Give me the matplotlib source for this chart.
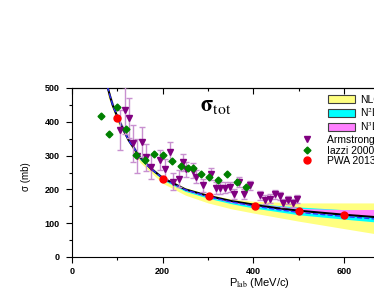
import matplotlib
matplotlib.use("Agg")
import matplotlib.pyplot as plt
from matplotlib.patches import Patch
from matplotlib.lines import Line2D
import numpy as np

plt.rcParams['font.family'] = ['Liberation Sans', 'DejaVu Sans']
plt.rcParams['mathtext.fontset'] = 'stix'

# theory curves (P_lab in MeV/c, sigma in mb)
p_th = [78, 85, 90, 100, 110, 125, 150, 175, 200, 250, 300, 350, 400, 450, 500, 600, 700, 800]
sig_n3lo = [505, 470, 448, 415, 385, 345, 295, 260, 234, 200, 181, 166, 155, 145, 137, 125, 115, 106]
sig_dash = [505, 470, 448, 415, 385, 345, 295, 260, 233, 199, 179, 163, 151, 141, 132, 120, 109, 100]

p_band = [78, 100, 150, 200, 250, 300, 350, 400, 500, 600, 700, 800]
nlo_lo = [480, 398, 280, 218, 183, 160, 143, 130, 106, 84, 62, 46]
nlo_hi = [510, 420, 298, 238, 205, 186, 172, 165, 160, 160, 160, 160]
n2lo_lo = [500, 410, 288, 228, 194, 174, 158, 145, 125, 112, 100, 90]
n2lo_hi = [506, 418, 297, 236, 202, 183, 169, 158, 148, 140, 134, 130]
n3lo_lo = [502, 412, 291, 231, 197, 178, 162, 151, 133, 123, 117, 110]
n3lo_hi = [507, 418, 297, 236, 202, 184, 168, 158, 144, 140, 141, 142]

# Armstrong data
p_arm = [105, 117, 126, 135, 144, 155, 164, 175, 195, 205, 215, 223, 236, 245, 252, 266, 273, 288,
         306, 317, 326, 337, 348, 357, 368, 379, 393, 415, 426, 437, 448, 459, 466, 477, 487, 497]
sig_arm = [376, 434, 411, 337, 300, 340, 295, 266, 288, 260, 312, 223, 231, 280, 260, 255, 238, 212,
           246, 205, 204, 205, 207, 186, 222, 186, 212, 182, 170, 172, 185, 180, 160, 168, 160, 172]
err_arm = [60, 70, 60, 55, 50, 45, 40, 35, 30, 30, 28, 25, 25, 25, 22, 22, 20, 20,
           18, 18, 18, 16, 16, 15, 15, 15, 14, 14, 13, 13, 13, 12, 12, 12, 12, 12]

# Iazzi data
p_iaz = [65, 81, 99, 120, 142, 160, 180, 201, 221, 241, 256, 266, 284, 302, 323, 342, 363, 384]
sig_iaz = [416, 364, 443, 378, 303, 287, 306, 303, 285, 270, 263, 263, 245, 238, 228, 246, 221, 207]
err_iaz = [8, 8, 8, 8, 8, 7, 7, 7, 7, 7, 7, 7, 7, 7, 7, 7, 7, 7]

# PWA points
p_pwa = [99, 200, 302, 403, 501, 599]
sig_pwa = [411, 230, 179, 151, 136, 124]

fig = plt.figure(figsize=(3.74, 2.91), dpi=100)
ax = fig.add_axes([72/374, 34/291, 362.8/374, 169/291])

ax.fill_between(p_band, nlo_lo, nlo_hi, color='#ffff80', lw=0, zorder=1)
ax.fill_between(p_band, n2lo_lo, n2lo_hi, color='#00ffff', lw=0, zorder=2)
ax.fill_between(p_band, n3lo_lo, n3lo_hi, color='#ff80ff', lw=0, zorder=3)
ax.plot(p_th, sig_n3lo, '-', color='k', lw=1.5, zorder=4)
ax.plot(p_th, sig_dash, '--', color='#3030ff', lw=1.0, zorder=5)

ax.errorbar(p_arm, sig_arm, yerr=err_arm, fmt='v', color='#800080', ms=4,
            ecolor='#c890d0', elinewidth=1, capsize=2.5, zorder=6)
ax.errorbar(p_iaz, sig_iaz, yerr=err_iaz, xerr=4, fmt='D', color='#008000', ms=3.5,
            ecolor='#80c080', elinewidth=1, capsize=0, zorder=7)
ax.plot(p_pwa, sig_pwa, 'o', color='#ff0000', ms=5, zorder=8)

ax.set_xlim(0, 800)
ax.set_ylim(0, 500)
ax.set_xticks([0, 200, 400, 600])
ax.set_xticks([100, 300, 500, 700], minor=True)
ax.set_yticks([0, 100, 200, 300, 400, 500])
ax.set_yticks(np.arange(50, 500, 100), minor=True)
ax.tick_params(axis='both', which='major', labelsize=6.5, length=4, width=0.8, pad=3)
ax.tick_params(axis='y', which='major', pad=5)
ax.tick_params(axis='both', which='minor', length=2, width=0.8, direction='out')
for lab in ax.get_xticklabels() + ax.get_yticklabels():
    lab.set_fontweight('bold')
ax.spines['right'].set_visible(False)

# ticks along the top frame, pointing inward
top = ax.secondary_xaxis('top')
top.set_xticks([0, 200, 400, 600])
top.set_xticks([100, 300, 500, 700], minor=True)
top.tick_params(which='both', direction='in', labeltop=False, width=0.8)
top.tick_params(which='major', length=4)
top.tick_params(which='minor', length=2)

ax.set_ylabel('σ (mb)', fontsize=7)
ax.yaxis.set_label_coords(-(72 - 31) / 362.8, (257 - 177) / 169)
ax.set_xlabel(r'P$_{\rm lab}$ (MeV/c)', fontsize=8)
ax.xaxis.set_label_coords((259 - 72) / 362.8, -0.112)

ax.text(200/374, 1 - 106/291, r'$\mathbf{\sigma}_{\rm tot}$', transform=fig.transFigure,
        fontsize=16, ha='left', va='center')

band_handles = [Patch(facecolor='#ffff80', edgecolor='#404040', lw=0.8),
                Patch(facecolor='#00ffff', edgecolor='#404040', lw=0.8),
                Patch(facecolor='#ff80ff', edgecolor='#404040', lw=0.8)]
fig.legend(band_handles, ['NLO', r'N$^2$LO', r'N$^3$LO'], loc='upper left',
           bbox_to_anchor=(328/374, 1 - 95/291), frameon=False, fontsize=7.5,
           handlelength=2.6, handleheight=0.8, handletextpad=0.45,
           labelspacing=0.1, borderpad=0, borderaxespad=0)
mark_handles = [Line2D([], [], ls='', marker='v', color='#800080', ms=4.5),
                Line2D([], [], ls='', marker='D', color='#008000', ms=3.5),
                Line2D([], [], ls='', marker='o', color='#ff0000', ms=5)]
fig.legend(mark_handles, ['Armstrong 1987', 'Iazzi 2000', 'PWA 2013'], loc='upper left',
           bbox_to_anchor=(300/374, 1 - 135/291), frameon=False, fontsize=7.5,
           handlelength=1.4, handletextpad=1.2, labelspacing=0.05,
           borderpad=0, borderaxespad=0)

fig.savefig('out.png', dpi=100)
